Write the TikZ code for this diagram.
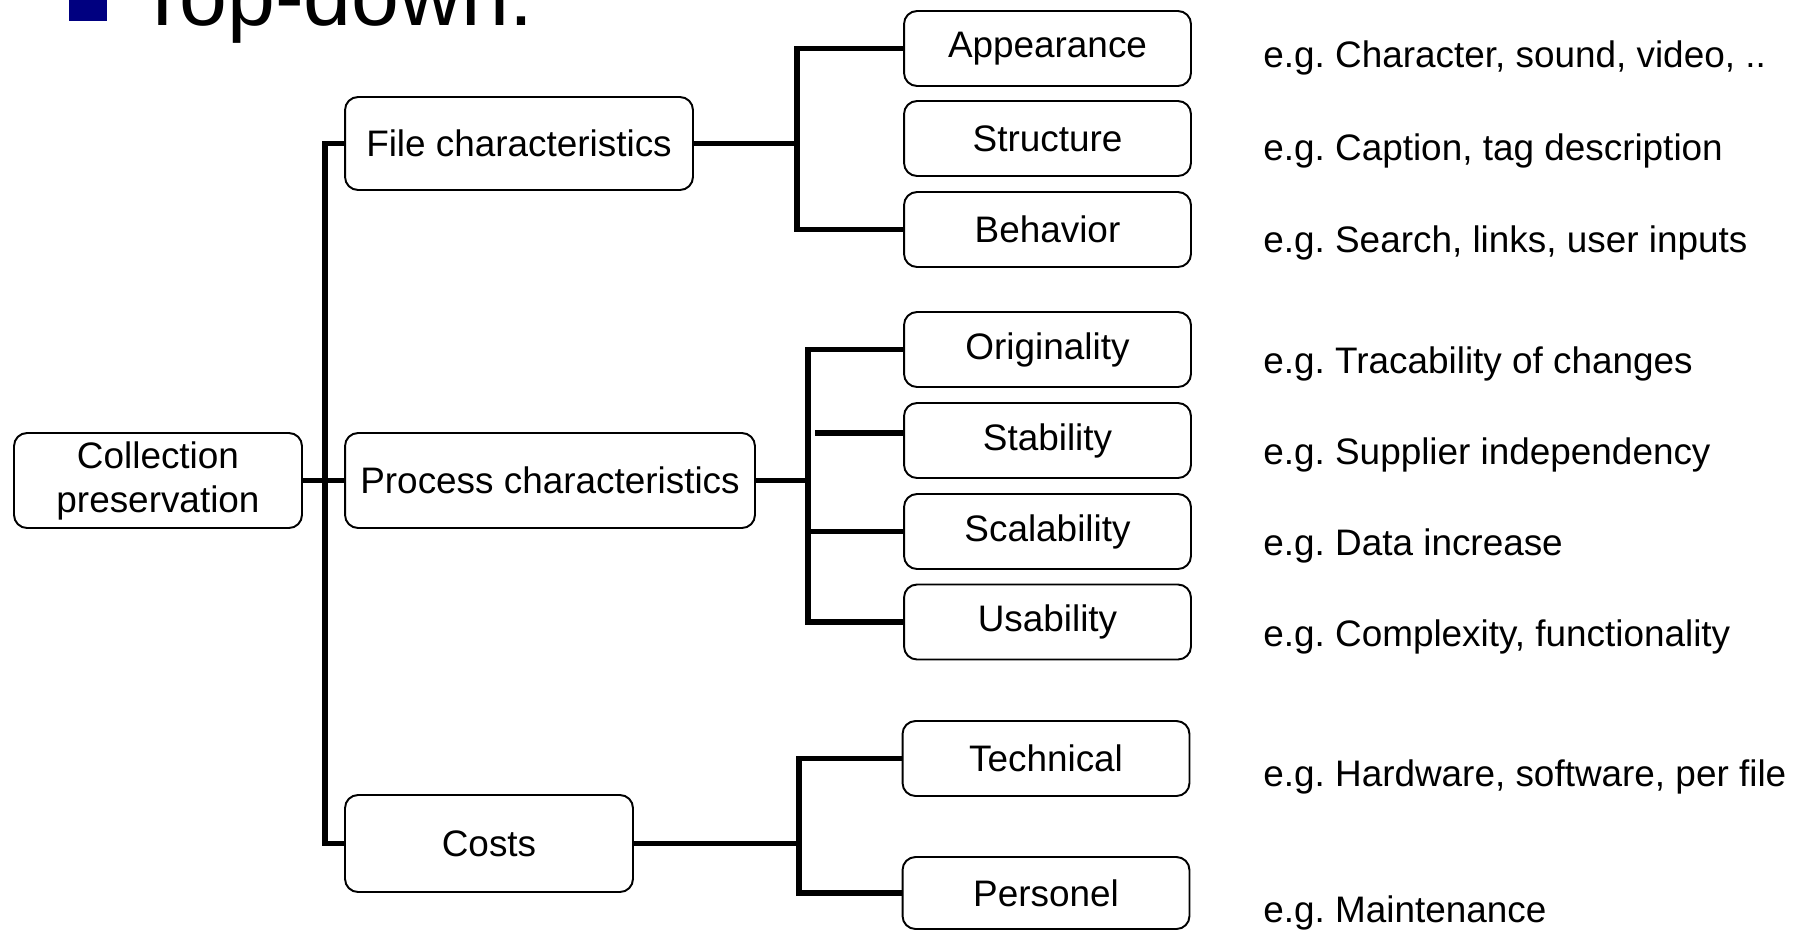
\documentclass[tikz,border=0pt]{standalone}
\usepackage{fontspec}
\setmainfont{Liberation Sans}
\usepackage{tikz}
\definecolor{bulletblue}{RGB}{0,0,128}
\frenchspacing

\begin{document}
\begin{tikzpicture}[x=0.02cm, y=-0.02cm,
    box/.style={draw, line width=1.1pt, rounded corners=0.26cm, align=center, inner sep=0pt, font=\fontsize{21}{25}\selectfont},
    leaf/.style={box, minimum width=5.74cm, minimum height=1.5cm},
    bar/.style={line width=3.2pt},
    note/.style={anchor=west, inner sep=0pt, font=\fontsize{21}{25}\selectfont}]
    \path[use as bounding box, clip] (0,0) rectangle (1805,930);

    % title
    \fill[bulletblue] (69,-17) rectangle (107,21);
    \node[anchor=base west, inner sep=0pt, font=\fontsize{49}{58}\selectfont] (title) at (136,25) {Top-down:};

    % root
    \node[box, minimum width=5.76cm, minimum height=1.9cm] (coll) at (158,480.5) {Collection\\preservation};

    % second level
    \node[box, minimum width=6.96cm, minimum height=1.86cm] (file) at (519,143.5) {File characteristics};
    \node[box, minimum width=8.2cm, minimum height=1.9cm] (proc) at (550,480.5) {Process characteristics};
    \node[box, minimum width=5.76cm, minimum height=1.94cm] (costs) at (489,843.5) {Costs};

    % leaves
    \node[leaf] (appear) at (1047.5,48.5) {Appearance};
    \node[leaf] (struct) at (1047.5,138.5) {Structure};
    \node[leaf] (behav) at (1047.5,229.5) {Behavior};
    \node[leaf] (orig) at (1047.5,349.5) {Originality};
    \node[leaf] (stab) at (1047.5,440.5) {Stability};
    \node[leaf] (scal) at (1047.5,531.5) {Scalability};
    \node[leaf] (usab) at (1047.5,622) {Usability};
    \node[leaf] (tech) at (1046,758.5) {Technical};
    \node[leaf, minimum height=1.44cm] (pers) at (1046,893) {Personel};

    % examples
    \node[note] (exappear) at (1263,57.6) {e.g. Character, sound, video, ..};
    \node[note] (exstruct) at (1263,150.8) {e.g. Caption, tag description};
    \node[note] (exbehav) at (1263,243) {e.g. Search, links, user inputs};
    \node[note] (exorig) at (1263,364) {e.g. Tracability of changes};
    \node[note] (exstab) at (1263,455) {e.g. Supplier independency};
    \node[note] (exscal) at (1263,546) {e.g. Data increase};
    \node[note] (exusab) at (1263,637) {e.g. Complexity, functionality};
    \node[note] (extech) at (1263,777) {e.g. Hardware, software, per file};
    \node[note] (expers) at (1263,913) {e.g. Maintenance};

    % buses
    \coordinate (mbus) at (325,0);
    \coordinate (fbus) at (797,0);
    \coordinate (pbus) at (808,0);
    \coordinate (cbus) at (799,0);
    \coordinate (sgap) at (815,433);

    % root to second level
    \draw[bar] (file.west) -- (file.west -| mbus) -- (costs.west -| mbus) -- (costs.west);
    \draw[bar] (coll.east) -- (proc.west);

    % file characteristics
    \draw[bar] (appear.west) -- (appear.west -| fbus) -- (behav.west -| fbus) -- (behav.west);
    \draw[bar] (file.east) -- (file.east -| fbus);

    % process characteristics
    \draw[bar] (orig.west) -- (orig.west -| pbus) -- (usab.west -| pbus) -- (usab.west);
    \draw[bar] (proc.east) -- (proc.east -| pbus);
    \draw[bar] (scal.west -| pbus) -- (scal.west);
    \draw[bar] (sgap) -- (stab.west |- sgap);

    % costs
    \draw[bar] (tech.west) -- (tech.west -| cbus) -- (pers.west -| cbus) -- (pers.west);
    \draw[bar] (costs.east) -- (costs.east -| cbus);
\end{tikzpicture}
\end{document}
